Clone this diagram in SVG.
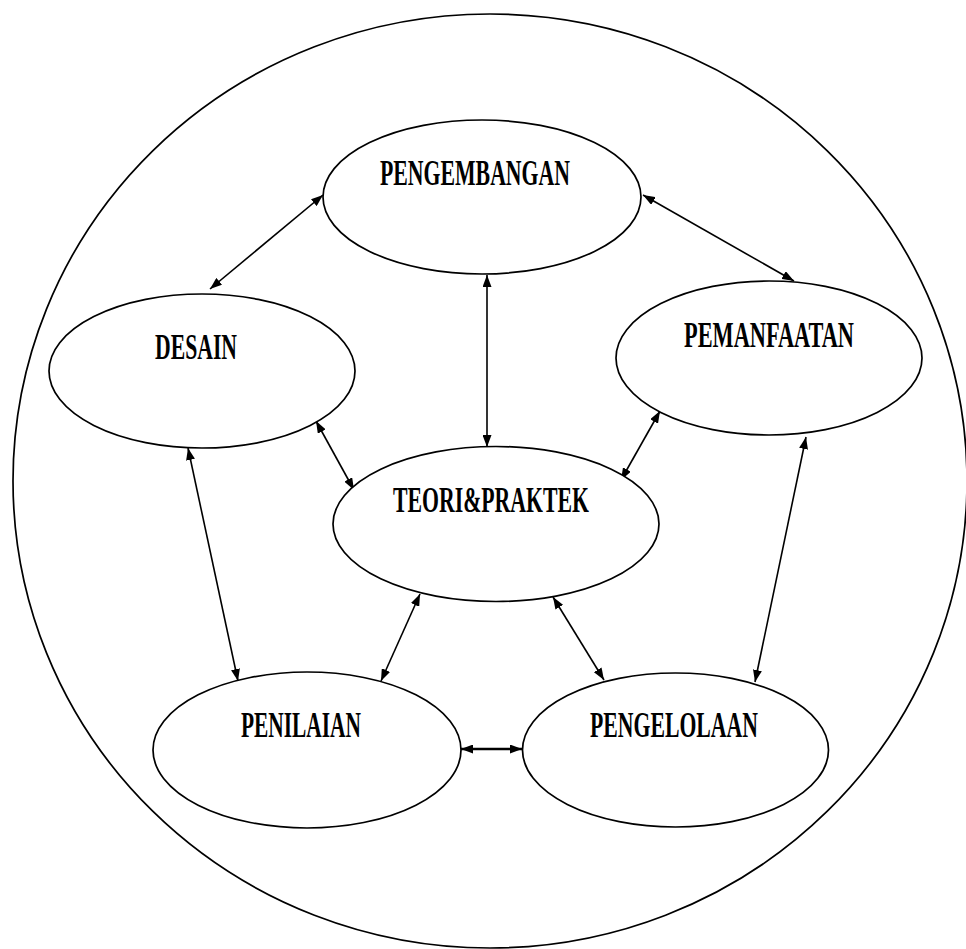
<svg xmlns="http://www.w3.org/2000/svg" width="966" height="949" viewBox="0 0 966 949">
<style>
.n{fill:#fff;stroke:#000;stroke-width:1.7}
.t{font-family:"Liberation Serif","Times New Roman",serif;font-weight:bold;font-size:35px;fill:#000}
.c{stroke:#000;stroke-width:1.6;fill:none;marker-start:url(#a);marker-end:url(#a)}
</style>
<defs>
<marker id="a" viewBox="0 0 12 9" refX="12" refY="4.5" markerWidth="12" markerHeight="9" markerUnits="userSpaceOnUse" orient="auto-start-reverse">
<path d="M0,0 L12,4.5 L0,9 Z" fill="#000"/>
</marker>
</defs>
<rect width="966" height="949" fill="#fff"/>
<ellipse id="outer" cx="490" cy="481" rx="477" ry="467" fill="none" stroke="#000" stroke-width="1.7"/>
<g id="connectors">
<line class="c" x1="210" y1="289" x2="323" y2="195"/>
<line class="c" x1="643" y1="195" x2="794" y2="281"/>
<line class="c" x1="487" y1="275" x2="487" y2="447"/>
<line class="c" x1="316" y1="421" x2="354" y2="490"/>
<line class="c" x1="660" y1="411" x2="621" y2="480"/>
<line class="c" x1="188" y1="448" x2="238" y2="681"/>
<line class="c" x1="420" y1="594" x2="381" y2="681"/>
<line class="c" x1="553" y1="597" x2="604" y2="680"/>
<line class="c" x1="806" y1="437" x2="755" y2="682"/>
<line class="c" x1="461" y1="749" x2="522" y2="749" style="stroke-width:2.4"/>
</g>
<g id="pengembangan">
<ellipse class="n" cx="482" cy="197" rx="159" ry="77"/>
<text class="t" x="380" y="185" textLength="190" lengthAdjust="spacingAndGlyphs">PENGEMBANGAN</text>
</g>
<g id="desain">
<ellipse class="n" cx="202" cy="371" rx="153" ry="77"/>
<text class="t" x="155" y="359" textLength="82" lengthAdjust="spacingAndGlyphs">DESAIN</text>
</g>
<g id="pemanfaatan">
<ellipse class="n" cx="769" cy="358" rx="153" ry="77"/>
<text class="t" x="684" y="347" textLength="170" lengthAdjust="spacingAndGlyphs">PEMANFAATAN</text>
</g>
<g id="teori">
<ellipse class="n" cx="496" cy="524" rx="163" ry="77.5"/>
<text class="t" x="393" y="512" textLength="196" lengthAdjust="spacingAndGlyphs">TEORI&amp;PRAKTEK</text>
</g>
<g id="penilaian">
<ellipse class="n" cx="307" cy="750" rx="154" ry="78"/>
<text class="t" x="241" y="737" textLength="120" lengthAdjust="spacingAndGlyphs">PENILAIAN</text>
</g>
<g id="pengelolaan">
<ellipse class="n" cx="675.5" cy="750" rx="153" ry="77"/>
<text class="t" x="590" y="737" textLength="168" lengthAdjust="spacingAndGlyphs">PENGELOLAAN</text>
</g>
</svg>
